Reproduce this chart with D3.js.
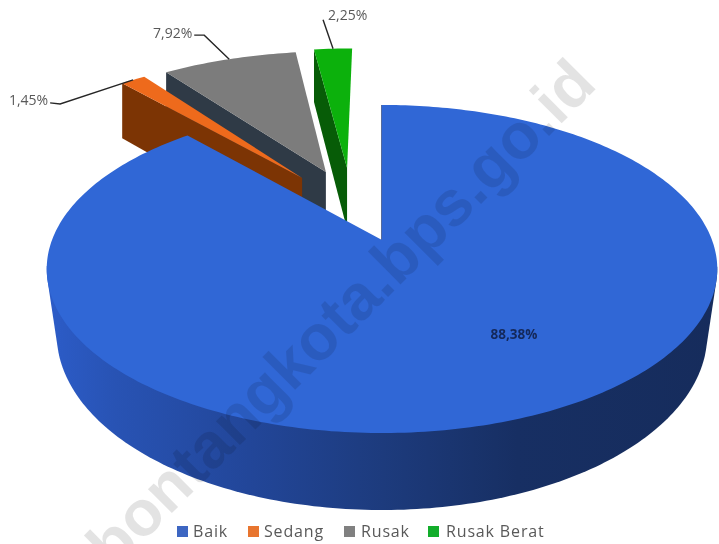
<!DOCTYPE html>
<html><head><meta charset="utf-8">
<script src="https://cdnjs.cloudflare.com/ajax/libs/d3/7.8.5/d3.min.js"></script>
<style>html,body{margin:0;padding:0;background:#fff;overflow:hidden}svg{display:block;filter:blur(.7px)}</style>
</head><body><svg id="c" width="719" height="544"></svg>
<script>
const categories = ["Baik","Sedang","Rusak","Rusak Berat"];
const values = [88.38,1.45,7.92,2.25];
const labels = ["88,38%","1,45%","7,92%","2,25%"];
const topColors = ["#3067d6","#ee6a1c","#7c7c7c","#0cb10c"];
const wallColors = ["#1c3a7c","#7c3404","#2f3a46","#075c07"];
const legendColors = ["#3d66c2","#e8752f","#808080","#12ad2b"];
const explodeU = [0,-0.26,-0.184,-0.115];
const explodeV = [0,0.42,0.463,0.492];
const sliceRadius = [1,1.04,1.04,1.04];
const watermark = "bontangkota.bps.go.id";

const CX=382, CY=240, A=158.9, B=330, P=0.1768, DEPTH=63.4, LOW=0.97;
const FONT="'Open Sans',sans-serif";
const svg=d3.select("#c");
const defs=svg.append("defs");
const sideStops=[[0,"#2c5cc8"],[.1,"#2853b4"],[.3,"#224699"],[.5,"#1d3b7d"],[.7,"#172f63"],[1,"#162c5c"]];
const grad=defs.append("linearGradient").attr("id","side").attr("gradientUnits","userSpaceOnUse")
  .attr("x1",48).attr("x2",718).attr("y1",0).attr("y2",0);
sideStops.forEach(s=>grad.append("stop").attr("offset",s[0]).attr("stop-color",s[1]));

function proj(u,v){const d=1+P*v;return [CX+B*u/d,CY-A*v/d];}
function low(u,v,s){const p=proj(u,v);return [CX+s*(p[0]-CX),p[1]+1.05*DEPTH/(1+P*v)];}
function lowMain(u,v){const p=proj(u,v);return [CX+LOW*(p[0]-CX),p[1]+DEPTH/(1+P*v)];}
const line=d3.line();
const pie=d3.pie().sort(null).startAngle(0).endAngle(2*Math.PI)(values);
function arcPts(d,i){
  const out=[],n=Math.max(6,Math.round((d.endAngle-d.startAngle)*60));
  d3.range(n+1).forEach(k=>{const t=d.startAngle+(d.endAngle-d.startAngle)*k/n;
    out.push([explodeU[i]+sliceRadius[i]*Math.sin(t),explodeV[i]+sliceRadius[i]*Math.cos(t)]);});
  return out;
}
const apex=i=>[explodeU[i],explodeV[i]];
const g=svg.append("g");

[3,2,1].forEach(i=>{
  const d=pie[i],arc=arcPts(d,i),a=apex(i),first=arc[0];
  g.append("path").attr("fill",wallColors[i]).attr("d",line([
    proj(...first),proj(...a),low(...a,1),low(...first,1)])+"Z");
  g.append("path").attr("fill",topColors[i]).attr("d",line([proj(...a),...arc.map(p=>proj(...p))])+"Z");
});

// main slice: rim as the hull of the front part of its top and bottom outlines
const blue=arcPts(pie[0],0);
const front=blue.filter(p=>p[1]<=-P+0.02);
const rim=d3.polygonHull([...front.map(p=>proj(...p)),...front.map(p=>lowMain(...p))]);
g.append("path").attr("fill","url(#side)").attr("d",line(rim)+"Z");
g.append("path").attr("fill","none").attr("stroke","#1c3a7c").attr("stroke-width",1.5)
  .attr("d",line([proj(0,1),proj(0,0)]));
g.append("path").attr("fill",topColors[0]).attr("d",line([proj(0,0),...blue.map(p=>proj(...p))])+"Z");

g.append("text").attr("x",514).attr("y",339).attr("text-anchor","middle")
  .attr("font-family",FONT).attr("font-size",13.5).attr("font-weight",700).attr("fill","#14285a").text(labels[0]);

// leaders: offsets from the outer-arc midpoint of each slice
const leaderOffsets={1:[[-73,24],[-83,23]],2:[[-25,-24],[-35,-24]],3:[[-10,-29]]};
const labelOffsets={1:[-85,25,"end"],2:[-37,-21,"end"],3:[-5,-29,"start"]};
[1,2,3].forEach(i=>{
  const d=pie[i],m=(d.startAngle+d.endAngle)/2,r=sliceRadius[i];
  const p=proj(explodeU[i]+r*Math.sin(m),explodeV[i]+r*Math.cos(m));
  g.append("path").attr("fill","none").attr("stroke","#262626").attr("stroke-width",1.4)
    .attr("d",line([p,...leaderOffsets[i].map(o=>[p[0]+o[0],p[1]+o[1]])]));
  const l=labelOffsets[i];
  g.append("text").attr("x",p[0]+l[0]).attr("y",p[1]+l[1]).attr("text-anchor",l[2])
    .attr("font-family",FONT).attr("font-size",14).attr("fill","#595959").text(labels[i]);
});

// legend
const legendX=[177,248,344,428];
const legendGap=[16,16,17,18];
categories.forEach((c,i)=>{
  const lg=svg.append("g").attr("transform",`translate(${legendX[i]},526)`);
  lg.append("rect").attr("width",11).attr("height",11).attr("fill",legendColors[i]);
  lg.append("text").attr("x",legendGap[i]).attr("y",11).attr("font-family",FONT)
    .attr("font-size",16).attr("letter-spacing",.85).attr("fill","#595959").text(c);
});

// watermark
svg.append("text").attr("transform","translate(113.5,571.5) rotate(-45)")
  .attr("font-family","'Liberation Sans',sans-serif").attr("font-weight",700).attr("font-size",64)
  .attr("fill","#000").attr("fill-opacity",.11).text(watermark);
</script></body></html>
